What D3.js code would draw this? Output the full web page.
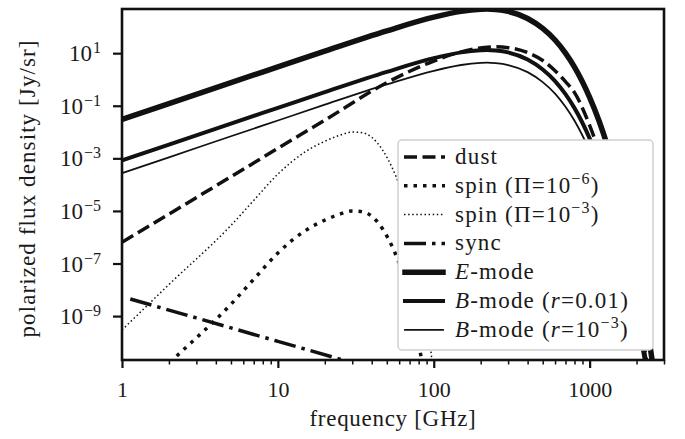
<!DOCTYPE html>
<html>
<head>
<meta charset="utf-8">
<script src="https://cdn.jsdelivr.net/npm/d3@7"></script>
<style>
  body { margin: 0; background: #fff; }
  svg text { font-family: "Liberation Serif", "DejaVu Serif", serif; fill: #1a1a1a; }
</style>
</head>
<body>
<div id="chart"></div>
<script>
// frequency grid for CMB and dust curves [GHz]
const freqGHz = [1, 2, 5, 10, 20, 50, 100, 150, 200, 220, 250, 300, 400, 500, 600, 700, 800, 1000, 1150, 1300, 1600, 1800, 2000, 2300, 2600, 3000];
// log10 of polarized flux density [Jy/sr]
const eModeLog = [-1.52, -0.92, -0.12, 0.48, 1.08, 1.85, 2.37, 2.59, 2.67, 2.68, 2.66, 2.59, 2.32, 1.94, 1.50, 1.00, 0.47, -0.68, -1.58, -2.52, -4.45, -5.77, -7.12, -9.17, -11.25, -14.07];
const bMode01Log = [-3.08, -2.48, -1.68, -1.08, -0.48, 0.29, 0.81, 1.03, 1.11, 1.12, 1.10, 1.03, 0.76, 0.38, -0.06, -0.56, -1.09, -2.24, -3.14, -4.08, -6.01, -7.33, -8.68, -10.73, -12.81, -15.63];
const bMode001Log = [-3.56, -2.96, -2.16, -1.56, -0.96, -0.19, 0.33, 0.55, 0.63, 0.64, 0.62, 0.55, 0.28, -0.10, -0.54, -1.04, -1.57, -2.72, -3.62, -4.56, -6.49, -7.81, -9.16, -11.21, -13.29, -16.11];
const dustLog = [-6.19, -5.12, -3.70, -2.62, -1.55, -0.12, 0.70, 1.05, 1.20, 1.23, 1.24, 1.21, 1.02, 0.72, 0.33, -0.08, -0.50, -1.75, -2.75, -3.80, -5.85, -7.15, -8.45, -10.55, -12.80, -15.90];

const spinFreqGHz = [1, 2, 5, 7, 10, 15, 20, 25, 30, 35, 40, 47, 55, 60, 70, 80, 90, 100];
const spin3Log = [-9.53, -7.80, -5.55, -4.60, -3.60, -2.75, -2.35, -2.12, -2.00, -2.03, -2.20, -2.69, -3.45, -4.00, -5.30, -7.00, -9.00, -11.30];
const spin6Log = [-12.53, -10.80, -8.55, -7.60, -6.60, -5.75, -5.35, -5.12, -5.00, -5.03, -5.20, -5.69, -6.45, -7.00, -8.30, -10.00, -12.00, -14.30];

const syncFreqGHz = [1.13, 3, 10, 30];
const syncLog = [-8.35, -9.07, -9.96, -10.77];

const xMajor = [1, 10, 100, 1000];
const yMajorExp = [1, -1, -3, -5, -7, -9];

const W = 685, H = 439;
const mLeft = 122, mRight = 664, mTop = 9, mBottom = 360;
const FONT = '"Liberation Serif", "DejaVu Serif", serif';

const svg = d3.select('#chart').append('svg')
    .attr('width', W)
    .attr('height', H)
    .attr('font-family', FONT);

const x = d3.scaleLog().domain([1, 3000]).range([mLeft, mRight]);
const y = d3.scaleLog().domain([Math.pow(10, -10.67), Math.pow(10, 2.68)]).range([mBottom, mTop]);

svg.append('clipPath').attr('id', 'plot')
    .append('rect')
    .attr('x', mLeft).attr('y', mTop)
    .attr('width', mRight - mLeft).attr('height', mBottom - mTop);

function pts(fs, logs) {
    return fs.map((f, i) => ({ f: f, v: Math.pow(10, logs[i]) }));
}

const line = d3.line()
    .x(d => x(d.f))
    .y(d => y(d.v))
    .curve(d3.curveMonotoneX);

const series = [
    { label: 'dust', data: pts(freqGHz, dustLog), w: 3.5, dash: '13,5.5', cap: 'butt' },
    { label: 'spin6', data: pts(spinFreqGHz, spin6Log), w: 3.5, dash: '3.5,6', cap: 'butt' },
    { label: 'spin3', data: pts(spinFreqGHz, spin3Log), w: 1.5, dash: '1.5,2.6', cap: 'butt' },
    { label: 'sync', data: pts(syncFreqGHz, syncLog), w: 3.5, dash: '22,6,3.5,6', cap: 'butt' },
    { label: 'E', data: pts(freqGHz, eModeLog), w: 5.5, dash: null, cap: 'square' },
    { label: 'B01', data: pts(freqGHz, bMode01Log), w: 4, dash: null, cap: 'square' },
    { label: 'B001', data: pts(freqGHz, bMode001Log), w: 1.8, dash: null, cap: 'square' }
];

svg.append('g')
    .attr('clip-path', 'url(#plot)')
    .selectAll('path')
    .data(series)
    .enter()
        .append('path')
        .attr('d', d => line(d.data))
        .attr('fill', 'none')
        .attr('stroke', '#111')
        .attr('stroke-width', d => d.w)
        .attr('stroke-dasharray', d => d.dash)
        .attr('stroke-linecap', d => d.cap)
        .attr('stroke-linejoin', 'round');

// axes
const xMinor = [];
[1, 10, 100, 1000].forEach(p => {
    for (let k = 2; k <= 9; k++) {
        if (p * k <= 3000) xMinor.push(p * k);
    }
});

const xAxis = svg.append('g')
    .attr('transform', `translate(0,${mBottom})`)
    .call(d3.axisBottom(x).tickValues(xMajor).tickSize(8).tickPadding(13).tickFormat(d3.format('d')))
    .attr('font-family', FONT);
xAxis.select('.domain').remove();
xAxis.selectAll('line').attr('stroke', '#111').attr('stroke-width', 2.2);
xAxis.selectAll('text').attr('font-size', 22).attr('fill', '#1a1a1a');

const xAxisMinor = svg.append('g')
    .attr('transform', `translate(0,${mBottom})`)
    .call(d3.axisBottom(x).tickValues(xMinor).tickSize(4.5).tickFormat(''));
xAxisMinor.select('.domain').remove();
xAxisMinor.selectAll('line').attr('stroke', '#111').attr('stroke-width', 1.5);

const yAxis = svg.append('g')
    .attr('transform', `translate(${mLeft},0)`)
    .call(d3.axisLeft(y).tickValues(yMajorExp.map(e => Math.pow(10, e))).tickSize(9).tickFormat(''))
    .attr('font-family', FONT);
yAxis.select('.domain').remove();
yAxis.selectAll('line').attr('stroke', '#111').attr('stroke-width', 2.2);

yAxis.selectAll('.tick').each(function (d, i) {
    const e = yMajorExp[i];
    const t = d3.select(this).append('text')
        .attr('x', -21)
        .attr('y', 7.5)
        .attr('text-anchor', 'end')
        .attr('font-size', 23)
        .attr('fill', '#1a1a1a');
    t.append('tspan').text('10');
    t.append('tspan')
        .attr('dy', -8)
        .attr('dx', 1)
        .attr('font-size', 16)
        .text(e < 0 ? '\u2212' + (-e) : String(e));
});

// frame
svg.append('rect')
    .attr('x', mLeft).attr('y', mTop)
    .attr('width', mRight - mLeft).attr('height', mBottom - mTop)
    .attr('fill', 'none')
    .attr('stroke', '#111')
    .attr('stroke-width', 2.6);

// axis labels
svg.append('text')
    .attr('x', (mLeft + mRight) / 2)
    .attr('y', 426)
    .attr('text-anchor', 'middle')
    .attr('font-size', 23)
    .attr('letter-spacing', 0.7)
    .text('frequency [GHz]');

svg.append('text')
    .attr('transform', `translate(35,${(mTop + mBottom) / 2 + 4}) rotate(-90)`)
    .attr('text-anchor', 'middle')
    .attr('font-size', 23)
    .attr('letter-spacing', 1.1)
    .text('polarized flux density [Jy/sr]');

// legend
const leg = svg.append('g');
leg.append('rect')
    .attr('x', 398).attr('y', 140)
    .attr('width', 255).attr('height', 210)
    .attr('rx', 4)
    .attr('fill', '#fff')
    .attr('stroke', '#cfcfcf')
    .attr('stroke-width', 1.5);

const legendParts = [
    [['dust', '']],
    [['spin (\u03A0=10', ''], ['\u22126', 'sup'], [')', '']],
    [['spin (\u03A0=10', ''], ['\u22123', 'sup'], [')', '']],
    [['sync', '']],
    [['E', 'it'], ['-mode', '']],
    [['B', 'it'], ['-mode (', ''], ['r', 'it'], ['=0.01)', '']],
    [['B', 'it'], ['-mode (', ''], ['r', 'it'], ['=10', ''], ['\u22123', 'sup'], [')', '']]
];

const rowY = i => 157 + i * 28.8;

const rows = leg.selectAll('g.row')
    .data(series)
    .enter()
        .append('g')
        .attr('class', 'row')
        .attr('transform', (d, i) => `translate(0,${rowY(i)})`);

rows.append('line')
    .attr('x1', d => d.cap === 'square' ? 405 : 404)
    .attr('x2', d => d.cap === 'square' ? 443 : 445)
    .attr('stroke', '#111')
    .attr('stroke-width', d => d.w)
    .attr('stroke-dasharray', d => d.dash)
    .attr('stroke-linecap', d => d.cap);

rows.each(function (d, i) {
    const t = d3.select(this).append('text')
        .attr('x', 455)
        .attr('y', 7)
        .attr('font-size', 23)
        .attr('letter-spacing', 1.2);
    let up = false;
    legendParts[i].forEach(p => {
        const s = t.append('tspan').text(p[0]);
        if (p[1] === 'it') s.attr('font-style', 'italic');
        if (p[1] === 'sup') {
            s.attr('font-size', 16).attr('dy', -9);
            up = true;
        } else if (up) {
            s.attr('dy', 9);
            up = false;
        }
    });
});
</script>
</body>
</html>
